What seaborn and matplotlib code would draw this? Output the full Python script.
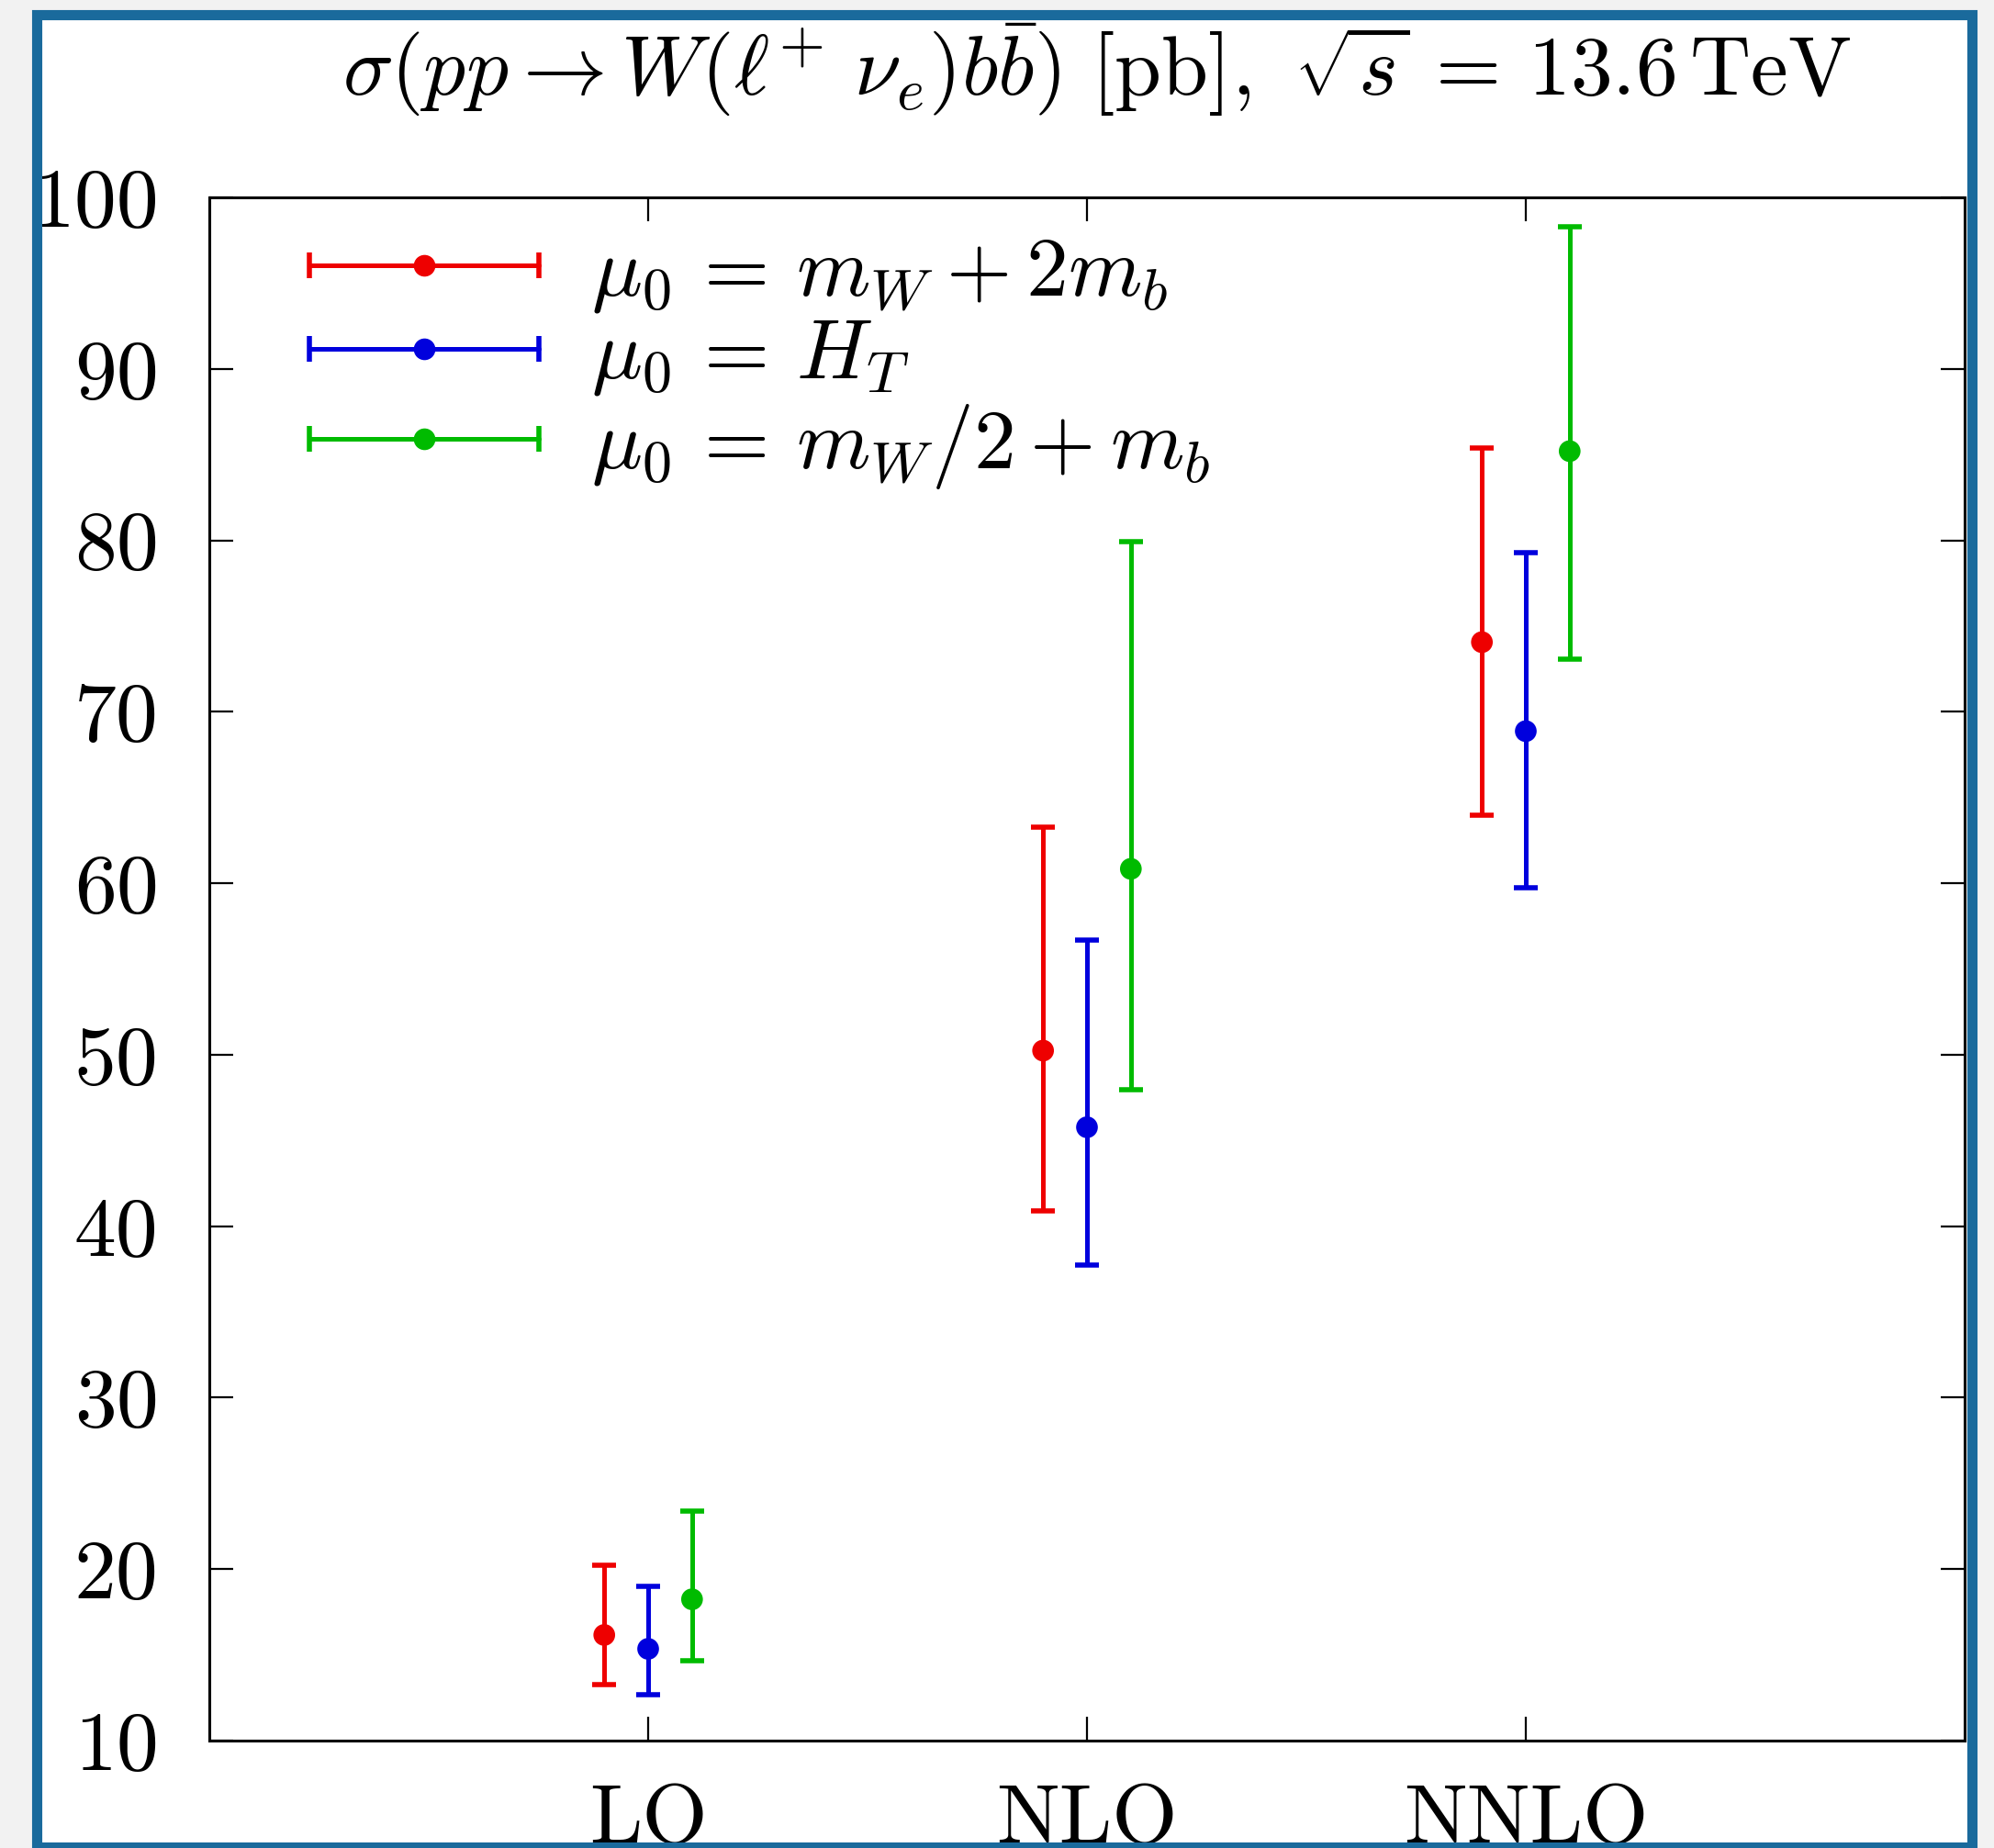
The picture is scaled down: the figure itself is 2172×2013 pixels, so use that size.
import numpy as np
import matplotlib
matplotlib.use("Agg")
import matplotlib.pyplot as plt
import seaborn as sns
import pandas as pd
from matplotlib.container import ErrorbarContainer
from matplotlib.legend_handler import HandlerErrorbar
from matplotlib.lines import Line2D
from matplotlib.collections import LineCollection
from matplotlib.patches import Rectangle

# ---------------- data ----------------
orders = ["LO", "NLO", "NNLO"]
scale_labels = [r"$\mu_0 \,=\, m_W + 2m_b$", r"$\mu_0 \,=\, H_T$", r"$\mu_0 \,=\, m_W/2 + m_b$"]

central_mw2mb = [16.16, 50.24, 74.06]
upper_mw2mb = [20.25, 63.28, 85.39]
lower_mw2mb = [13.28, 40.90, 63.95]

central_ht = [15.35, 45.77, 68.87]
upper_ht = [18.98, 56.69, 79.30]
lower_ht = [12.70, 37.75, 59.72]

central_half = [18.24, 60.84, 85.20]
upper_half = [23.37, 79.93, 98.29]
lower_half = [14.65, 47.98, 73.07]

yticks = [10, 20, 30, 40, 50, 60, 70, 80, 90, 100]
title = r"$\sigma(pp \to W(\ell^{+}\ \nu_e)b\bar{b})\ [\mathrm{pb}],\ \sqrt{s} \,=\, 13.6\,\mathrm{TeV}$"

# ---------------- style ----------------
sns.set_theme(style="ticks", rc={
    "axes.edgecolor": "black", "text.color": "black", "axes.labelcolor": "black",
    "xtick.color": "black", "ytick.color": "black",
})
plt.rcParams["font.family"] = "serif"
plt.rcParams["font.serif"] = ["cmr10", "DejaVu Serif"]
plt.rcParams["mathtext.fontset"] = "cm"
plt.rcParams["axes.unicode_minus"] = False
plt.rcParams["axes.formatter.use_mathtext"] = True

colors = ["#ee0000", "#0000dd", "#00bb00"]
dodge = [-0.1, 0.0, 0.1]
FS = 66

W, H = 2172, 2013
fig = plt.figure(figsize=(W / 100, H / 100), dpi=100)
fig.patch.set_facecolor("#f2f2f2")
# white page + frame (screenshot look)
fig.add_artist(Rectangle((40 / W, 1 - 2012 / H), (2148 - 40) / W, (2012 - 16) / H,
                         transform=fig.transFigure, facecolor="white", edgecolor="none", zorder=-10))

L, R, T, B = 228, 2140, 215, 1896
ax = fig.add_axes([L / W, 1 - B / H, (R - L) / W, (B - T) / H])
ax.set_facecolor("white")

rows = []
series = [(central_mw2mb, upper_mw2mb, lower_mw2mb),
          (central_ht, upper_ht, lower_ht),
          (central_half, upper_half, lower_half)]
for si, (c, u, l) in enumerate(series):
    for oi, o in enumerate(orders):
        rows.append(dict(scale=scale_labels[si], order=o, x=oi + dodge[si],
                         value=c[oi], upper=u[oi], lower=l[oi]))
df = pd.DataFrame(rows)

handles = []
for si, lab in enumerate(scale_labels):
    d = df[df.scale == lab]
    ax.errorbar(d.x, d.value, yerr=[d.value - d.lower, d.upper - d.value],
                fmt="none", ecolor=colors[si], elinewidth=3.6, capsize=9.4, capthick=4, zorder=2)
    # legend proxy (horizontal error-bar glyph)
    pl = Line2D([], [], color=colors[si], marker="o", markersize=17, markeredgewidth=0, lw=3.6)
    cap = Line2D([], [], color=colors[si], marker="|", markersize=19.5, markeredgewidth=4, ls="none")
    bar = LineCollection([], colors=colors[si], linewidths=3.6)
    handles.append(ErrorbarContainer((pl, (cap,), (bar,)), has_xerr=True, has_yerr=False, label=lab))

sns.scatterplot(data=df, x="x", y="value", hue="scale", palette=colors, s=290,
                edgecolor="none", legend=False, zorder=3, ax=ax)

ax.set_xlim(-1, 3)
ax.set_ylim(10, 100)
ax.set_xticks(range(len(orders)))
ax.set_xticklabels(orders)
ax.set_yticks(yticks)
ax.set_yticklabels([str(v) for v in yticks])
ax.set_xlabel("")
ax.set_ylabel("")
ax.tick_params(axis="both", direction="in", length=19, width=1.6, labelsize=FS,
               top=True, right=True)
ax.tick_params(axis="y", pad=40)
ax.tick_params(axis="x", pad=34)
for sp in ax.spines.values():
    sp.set_linewidth(2.2)
    sp.set_color("black")

hl = 2.73
leg = ax.legend(handles=handles, loc="upper left", bbox_to_anchor=(0.057, 0.975),
                frameon=False, fontsize=FS, numpoints=1, handlelength=hl,
                handletextpad=0.62, labelspacing=0.05, borderpad=0, borderaxespad=0,
                handler_map={ErrorbarContainer: HandlerErrorbar(xerr_size=hl / 2)})

fig.text(1195 / W, 1 - 76 / H, title, ha="center", va="center", fontsize=FS)

# frame and cut-off at bottom
fig.add_artist(Rectangle((0, 0), 1, 1 - 2012 / H, transform=fig.transFigure,
                         facecolor="#f2f2f2", edgecolor="none", zorder=9))
fig.add_artist(Rectangle((40 / W, 1 - 2012 / H), (2148 - 40) / W, (2012 - 16) / H,
                         transform=fig.transFigure, facecolor="none", edgecolor="#1a6a9c",
                         linewidth=8, zorder=10))

fig.savefig("out.png", dpi=100, facecolor=fig.get_facecolor())
